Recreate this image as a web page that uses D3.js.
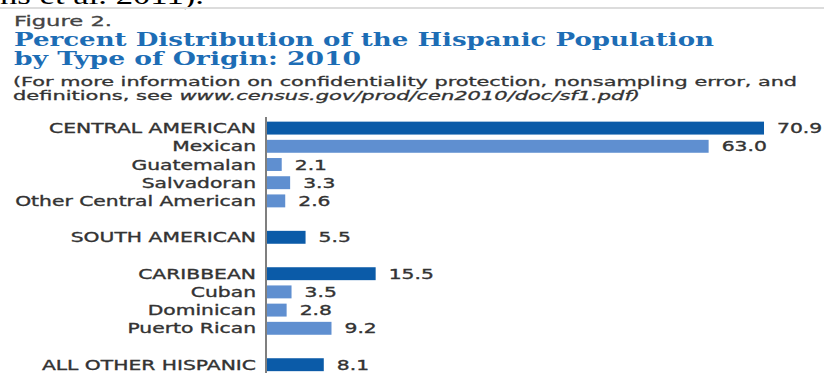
<!DOCTYPE html>
<html>
<head>
<meta charset="utf-8">
<script src="https://cdn.jsdelivr.net/npm/d3@7/dist/d3.min.js"></script>
<style>
  html, body { margin: 0; padding: 0; background: #fff; }
  svg { display: block; }
</style>
</head>
<body>
<svg id="chart" width="824" height="373"></svg>
<script>
// Hispanic population by type of origin, 2010 (percent)
const categories = [
  "CENTRAL AMERICAN", "Mexican", "Guatemalan", "Salvadoran", "Other Central American",
  "SOUTH AMERICAN",
  "CARIBBEAN", "Cuban", "Dominican", "Puerto Rican",
  "ALL OTHER HISPANIC"
];
const levels = [
  "group", "sub", "sub", "sub", "sub",
  "group",
  "group", "sub", "sub", "sub",
  "group"
];
const values = [70.9, 63.0, 2.1, 3.3, 2.6, 5.5, 15.5, 3.5, 2.8, 9.2, 8.1];
const valueLabels = ["70.9", "63.0", "2.1", "3.3", "2.6", "5.5", "15.5", "3.5", "2.8", "9.2", "8.1"];

const figureLabel = "Figure 2.";
const titleLines = ["Percent Distribution of the Hispanic Population", "by Type of Origin: 2010"];
const noteLine1 = "(For more information on confidentiality protection, nonsampling error, and";
const noteLine2a = "definitions, see ";
const noteLine2b = "www.census.gov/prod/cen2010/doc/sf1.pdf)";
const runningText = "ns et al. 2011).";

const svg = d3.select("#chart");
const SANS = "'DejaVu Sans', Verdana, sans-serif";
const TEXT = "#333";
const STRETCH = 1.45;   // wide set of the labels

// running text of the page above the figure, cut by the page edge
svg.append("text")
  .attr("x", 0).attr("y", 4)
  .attr("textLength", 204).attr("lengthAdjust", "spacingAndGlyphs")
  .style("font-family", "'Liberation Serif', 'Times New Roman', serif")
  .style("font-size", "26px").style("fill", "#000")
  .text(runningText);
svg.append("line")
  .attr("x1", 0).attr("x2", 824).attr("y1", 8).attr("y2", 8)
  .attr("stroke", "#dcdcdc").attr("stroke-width", 2);

// header
svg.append("text")
  .attr("x", 14).attr("y", 26)
  .attr("textLength", 98).attr("lengthAdjust", "spacingAndGlyphs")
  .style("font-family", SANS).style("font-size", "14.5px").style("fill", "#444")
  .style("stroke", "#444").style("stroke-width", 0.3)
  .text(figureLabel);

const titleWidths = [700, 347];
svg.selectAll("text.title").data(titleLines).join("text")
  .attr("class", "title")
  .attr("x", 14).attr("y", (d, i) => 46 + i * 19)
  .attr("textLength", (d, i) => titleWidths[i]).attr("lengthAdjust", "spacingAndGlyphs")
  .style("font-family", "'DejaVu Serif', serif").style("font-weight", "bold")
  .style("font-size", "18px").style("fill", "#1d6db5")
  .text(d => d);

svg.append("text")
  .attr("x", 13).attr("y", 86)
  .attr("textLength", 784).attr("lengthAdjust", "spacingAndGlyphs")
  .style("font-family", SANS).style("font-size", "12.5px").style("fill", TEXT)
  .style("stroke", TEXT).style("stroke-width", 0.3)
  .text(noteLine1);
const note2 = svg.append("text")
  .attr("x", 13).attr("y", 100)
  .attr("textLength", 627).attr("lengthAdjust", "spacingAndGlyphs")
  .style("font-family", SANS).style("font-size", "12.5px").style("fill", TEXT)
  .style("stroke", TEXT).style("stroke-width", 0.3);
note2.append("tspan").text(noteLine2a);
note2.append("tspan").style("font-style", "italic").text(noteLine2b);

// slot index per row: a blank slot precedes every group heading but the first
const slots = [];
let s = 0;
levels.forEach((lv, i) => {
  if (lv === "group" && i > 0) s += 1;
  slots.push(s);
  s += 1;
});
const rows = categories.map((c, i) => ({
  name: c, level: levels[i], value: values[i], label: valueLabels[i], slot: slots[i]
}));

const y = d3.scaleBand()
  .domain(d3.range(s))
  .range([119, 373.8])
  .paddingInner(0.29).paddingOuter(0.145);
const x = d3.scaleLinear().domain([0, 100]).range([267, 968]);

const color = { group: "#0b5ba8", sub: "#5f8fd0" };

svg.selectAll("rect.bar").data(rows).join("rect")
  .attr("class", "bar")
  .attr("x", x(0))
  .attr("y", d => y(d.slot))
  .attr("width", d => x(d.value) - x(0))
  .attr("height", y.bandwidth())
  .attr("fill", d => color[d.level]);

// category axis
svg.append("line")
  .attr("x1", 266).attr("x2", 266)
  .attr("y1", 117).attr("y2", 373)
  .attr("stroke", "#555").attr("stroke-width", 1.5);

const mid = d => y(d.slot) + y.bandwidth() / 2;

svg.selectAll("text.cat").data(rows).join("text")
  .attr("class", "cat")
  .attr("transform", d => `translate(256,${mid(d) + 5}) scale(${STRETCH},1)`)
  .attr("text-anchor", "end")
  .style("font-family", SANS).style("font-size", "14px").style("fill", TEXT)
  .style("stroke", TEXT).style("stroke-width", 0.35)
  .text(d => d.name);

svg.selectAll("text.val").data(rows).join("text")
  .attr("class", "val")
  .attr("transform", d => `translate(${x(d.value) + 13},${mid(d) + 5}) scale(${STRETCH},1)`)
  .style("font-family", SANS).style("font-size", "14px").style("fill", TEXT)
  .style("stroke", TEXT).style("stroke-width", 0.35)
  .text(d => d.label);
</script>
</body>
</html>
